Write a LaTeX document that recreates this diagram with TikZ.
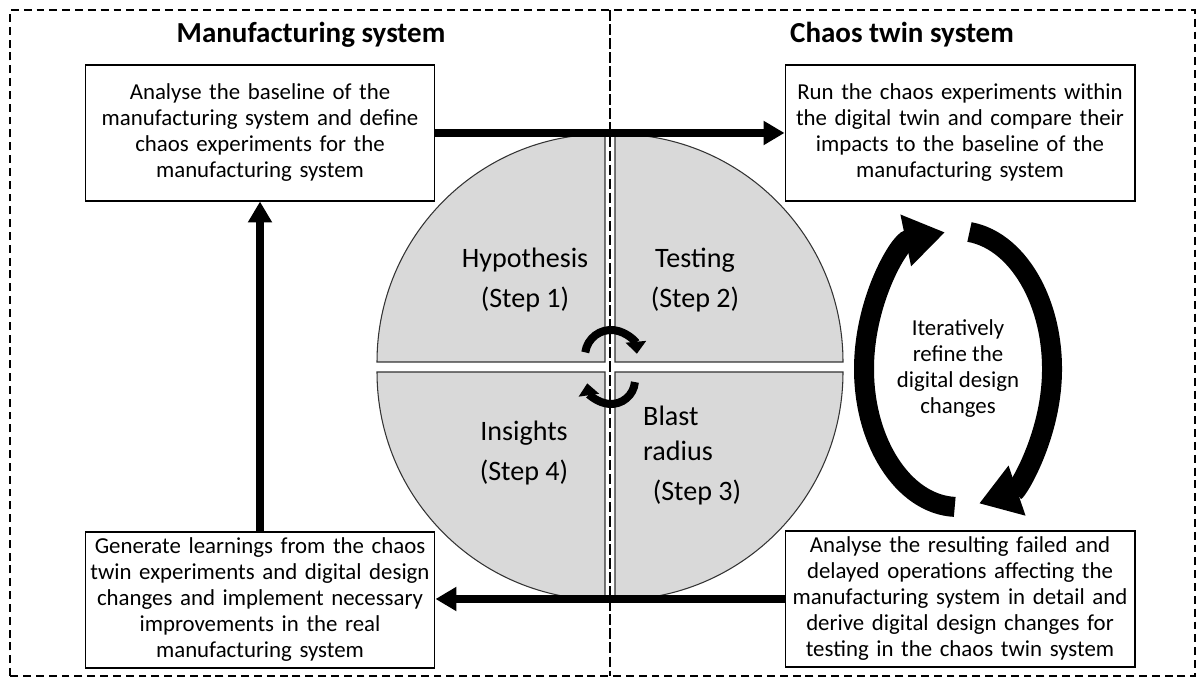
\documentclass[tikz,border=0pt]{standalone}
\usepackage{fontspec}
\setmainfont{Carlito}
\usetikzlibrary{arrows.meta, positioning}
\tikzset{
	task/.style={draw, rectangle, inner sep=2pt, text width=6.8cm, minimum width=7cm, minimum height=2.72cm, align=center, font=\fontsize{13}{14.8}\selectfont, line width=0.6pt},
	phase/.style={align=center, font=\fontsize{16}{22.8}\selectfont},
	quarter/.style={draw=black!80, fill=black!15, line width=0.6pt},
	heading/.style={font=\bfseries\fontsize{16.5}{20}\selectfont},
	% dashed outer frame and the line between the two systems
	framebox/.style={dash pattern=on 4.5pt off 2.8pt, line width=0.8pt},
	divider/.style={dash pattern=on 6pt off 2pt, line width=1.2pt},
}

\begin{document}
\begin{tikzpicture}[x=0.02cm, y=0.02cm]
	\useasboundingbox (0,0) rectangle (1203,685);
	\draw[framebox] (10,9) rectangle (1195,675);
	\draw[divider] (610,675) -- (610,9);
	
	\node (mtitle) [heading] at (311,650) {Manufacturing system};
	\node (ctitle) [heading] at (902,650) {Chaos twin system};
	
	\node (baseline) [task] at (260,552) {Analyse the baseline of the\\ manufacturing system and define\\ chaos experiments for the\\ manufacturing system};
	\node (run) [task] at (960,552) {Run the chaos experiments within\\ the digital twin and compare their\\ impacts to the baseline of the\\ manufacturing system};
	\node (learn) [task] at (260,85) {Generate learnings from the chaos\\ twin experiments and digital design\\ changes and implement necessary\\ improvements in the real\\ manufacturing system};
	\node (analyse) [task] at (960,86) {Analyse the resulting failed and\\ delayed operations affecting the\\ manufacturing system in detail and\\ derive digital design changes for\\ testing in the chaos twin system};
	
	% circle in four parts
	\filldraw[quarter] (605,323) -- ++(-228,0) arc[start angle=180, end angle=90, radius=228] -- cycle;
	\filldraw[quarter] (615,323) -- ++(0,228) arc[start angle=90, end angle=0, radius=228] -- cycle;
	\filldraw[quarter] (605,313) -- ++(0,-228) arc[start angle=270, end angle=180, radius=228] -- cycle;
	\filldraw[quarter] (615,313) -- ++(228,0) arc[start angle=0, end angle=-90, radius=228] -- cycle;
	
	\node (hyp) [phase] at (525,405) {Hypothesis\\(Step 1)};
	\node (test) [phase] at (695,405) {Testing\\(Step 2)};
	\node (blast) [phase, align=left, anchor=west, font=\fontsize{16}{19.9}\selectfont] at (637,252) {Blast\\radius};
	\node (step3) [phase] at (697,193) {(Step 3)};
	\node (ins) [phase] at (524,232) {Insights\\(Step 4)};
	
	\node (refine) [align=center, font=\fontsize{13}{14.8}\selectfont] at (958,316) {Iteratively\\ refine the\\ digital design\\ changes};
	\coordinate (hub) at (611,317);
	
	\begin{scope}[thick, black, ->, >={Triangle[length=0.42cm, width=0.46cm]}, line width=0.16cm]
		\draw (baseline.east) -- (run.west);
		\draw (analyse.west) -- (analyse.west -| learn.east);
		\draw (learn.north) -- (baseline.south);
	\end{scope}
	
	\begin{scope}[black, ->, >={Triangle[length=0.24cm, width=0.4cm]}, line width=0.16cm]
		\draw ([shift={(172:26)}]hub) ++(0,12) arc[start angle=172, end angle=5, radius=26];
		\draw ([shift={(355:24)}]hub) ++(0,-12) arc[start angle=355, end angle=188, radius=24];
	\end{scope}
	
	\begin{scope}[black, ->, >={Triangle[length=0.8cm, width=1cm]}, line width=0.4cm]
		\draw ([shift={(268:94 and 138)}]refine.center) arc[start angle=268, end angle=98, x radius=94, y radius=138];
		\draw ([shift={(83:94 and 138)}]refine.center) arc[start angle=83, end angle=-77, x radius=94, y radius=138];
	\end{scope}
\end{tikzpicture}
\end{document}
